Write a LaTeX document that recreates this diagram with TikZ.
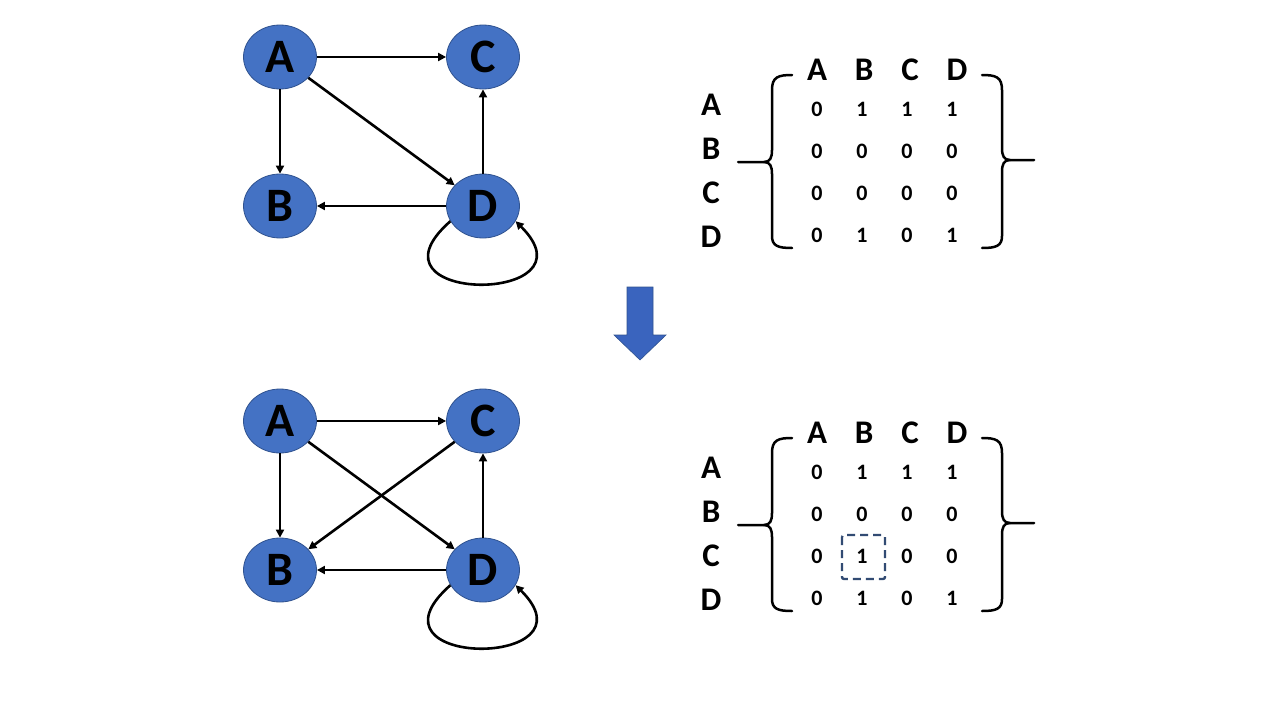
\documentclass[tikz,border=0pt]{standalone}
\usepackage{fontspec}
\setmainfont{Carlito}
\usetikzlibrary{arrows.meta,shapes.geometric}
\definecolor{nodeblue}{RGB}{68,114,196}
\definecolor{nodeedge}{RGB}{47,82,143}
\definecolor{dashblue}{RGB}{50,75,115}
\definecolor{arrowblue}{RGB}{58,100,190}
\begin{document}
\begin{tikzpicture}[x=1pt,y=-1pt,
  vtx/.style={ellipse,fill=nodeblue,draw=nodeedge,line width=0.8pt,minimum width=73pt,minimum height=64pt,inner sep=0pt,font=\bfseries\fontsize{48}{48}\selectfont},
  edg/.style={line width=2.6pt,-{Triangle[length=8pt,width=8pt]}},
  hdr/.style={inner sep=0pt,font=\bfseries\fontsize{33}{33}\selectfont},
  num/.style={inner sep=0pt,font=\bfseries\fontsize{22}{22}\selectfont},
  brk/.style={line width=2.5pt,line cap=round}
]
\useasboundingbox (0,0) rectangle (1280,720);

% ---------- Graphs ----------
\foreach \g/\dy in {t/0,b/364}{
  \node[vtx] (\g A) at (280,57+\dy) {A};
  \node[vtx] (\g C) at (483,57+\dy) {C};
  \node[vtx] (\g B) at (280,206+\dy) {B};
  \node[vtx] (\g D) at (483,206+\dy) {D};
  \draw[edg] (\g A) -- (\g C);
  \draw[edg] (\g A) -- (\g B);
  \draw[edg] (\g A) -- (\g D);
  \draw[edg] (\g D) -- (\g C);
  \draw[edg] (\g D) -- (\g B);
  \draw[edg] (\g D.205) .. controls (355,305+\dy) and (600,305+\dy) .. (\g D.-25);
}
\draw[edg] (bC) -- (bB);

% ---------- Matrices ----------
\foreach \m/\dy in {t/0,b/363}{
  \foreach \l/\x in {A/817,B/864,C/910,D/957}{
    \node[hdr] (\m h\l) at (\x,70+\dy) {\l};
  }
  \foreach \l/\y in {A/105,B/149,C/193,D/237}{
    \node[hdr] (\m r\l) at (711,\y+\dy) {\l};
  }
  % left bracket
  \draw[brk] (792,75+\dy) .. controls (778,75+\dy) and (772,77+\dy) .. (772,90+\dy) -- (772,150+\dy)
     .. controls (772,158+\dy) and (770,162+\dy) .. (764,162+\dy) -- (738,162+\dy);
  \draw[brk] (764,162+\dy) .. controls (770,162+\dy) and (772,166+\dy) .. (772,174+\dy) -- (772,236+\dy)
     .. controls (772,246+\dy) and (778,248+\dy) .. (792,248+\dy);
  % right bracket
  \draw[brk] (982,75+\dy) .. controls (996,75+\dy) and (1002,77+\dy) .. (1002,90+\dy) -- (1002,148+\dy)
     .. controls (1002,156+\dy) and (1004,160+\dy) .. (1010,160+\dy) -- (1034,160+\dy);
  \draw[brk] (1010,160+\dy) .. controls (1004,160+\dy) and (1002,164+\dy) .. (1002,172+\dy) -- (1002,236+\dy)
     .. controls (1002,246+\dy) and (996,248+\dy) .. (982,248+\dy);
}
% top matrix numbers
\foreach \r/\y/\a/\b/\c/\d in {1/109/0/1/1/1,2/151/0/0/0/0,3/193/0/0/0/0,4/235/0/1/0/1}{
  \node[num] (tn\r a) at (817,\y) {\a};
  \node[num] (tn\r b) at (862,\y) {\b};
  \node[num] (tn\r c) at (907,\y) {\c};
  \node[num] (tn\r d) at (952,\y) {\d};
}
% bottom matrix numbers
\foreach \r/\y/\a/\b/\c/\d in {1/472/0/1/1/1,2/514/0/0/0/0,3/556/0/1/0/0,4/598/0/1/0/1}{
  \node[num] (bn\r a) at (817,\y) {\a};
  \node[num] (bn\r b) at (862,\y) {\b};
  \node[num] (bn\r c) at (907,\y) {\c};
  \node[num] (bn\r d) at (952,\y) {\d};
}
\draw[dashblue,line width=2.4pt,dash pattern=on 8pt off 5pt,rounded corners=2pt] (842,535) rectangle (885,579);

% ---------- Block arrow ----------
\draw[fill=arrowblue,draw=nodeedge,line width=0.6pt] (627,287) -- (653,287) -- (653,335) -- (666,335) -- (640,360) -- (614,335) -- (627,335) -- cycle;
\end{tikzpicture}
\end{document}
